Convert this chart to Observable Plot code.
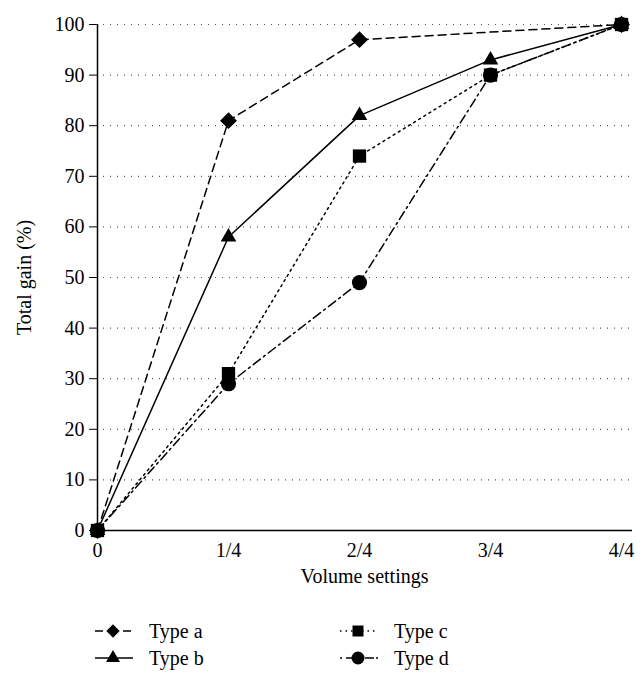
<!DOCTYPE html>
<html>
<head>
<meta charset="utf-8">
<script src="https://cdn.jsdelivr.net/npm/d3@7"></script>
<script src="https://cdn.jsdelivr.net/npm/@observablehq/plot@0.6"></script>
<style>
  body { margin: 0; background: #fff; }
  #wrap { position: relative; width: 644px; height: 683px; font-family: "Liberation Serif", "DejaVu Serif", serif; }
  #wrap svg text { font-size: 20px; fill: #000; }
  #wrap svg.legend text { font-size: 20px; }
</style>
</head>
<body>
<div id="wrap"></div>
<script>
const xLabels = ["0", "1/4", "2/4", "3/4", "4/4"];
const seriesNames = ["Type a", "Type b", "Type c", "Type d"];
const typeA = [0, 81, 97, null, 100];
const typeB = [0, 58, 82, 93, 100];
const typeC = [0, 31, 74, 90, 100];
const typeD = [0, 29, 49, 90, 100];
const yTicks = [0, 10, 20, 30, 40, 50, 60, 70, 80, 90, 100];

const seriesValues = [typeA, typeB, typeC, typeD];
const symbols = ["diamond2", "triangle", "square", "circle"];
const dashes = ["8,5", null, "2,4", "9,4,2,4"];
const radii = [7.6, 5.8, 7.5, 7.6];

const data = [];
seriesNames.forEach((s, i) => {
  seriesValues[i].forEach((v, j) => {
    if (v != null) data.push({series: s, x: xLabels[j], y: v, i});
  });
});

const marks = [
  Plot.gridY(yTicks.filter(d => d > 0), {stroke: "#555", strokeOpacity: 1, strokeDasharray: "1,6", strokeWidth: 1.2}),
  Plot.axisY(yTicks, {tickSize: 7, tickPadding: 5, label: "Total gain (%)", labelAnchor: "center", labelOffset: 80, labelArrow: "none"}),
  Plot.axisX(xLabels, {tickSize: 0, tickPadding: 12, label: "Volume settings", labelAnchor: "center", labelOffset: 52, labelArrow: "none"}),
  Plot.ruleY([0], {stroke: "#000", strokeWidth: 1.5}),
  Plot.ruleX([xLabels[0]], {y1: 0, y2: 100, stroke: "#000", strokeWidth: 1.5})
];
seriesNames.forEach((s, i) => {
  const d = data.filter(r => r.series === s);
  marks.push(Plot.line(d, {x: "x", y: "y", stroke: "#000", strokeWidth: 1.5, strokeDasharray: dashes[i]}));
});
seriesNames.forEach((s, i) => {
  const d = data.filter(r => r.series === s);
  marks.push(Plot.dot(d, {x: "x", y: "y", symbol: () => symbols[i], r: radii[i], fill: "#000", stroke: "none"}));
});

const chart = Plot.plot({
  width: 644,
  height: 600,
  marginLeft: 96,
  marginRight: 12,
  marginTop: 24,
  marginBottom: 70,
  style: {fontFamily: "Liberation Serif, DejaVu Serif, serif", fontSize: "20px", color: "#000", background: "#fff", overflow: "visible"},
  x: {type: "point", domain: xLabels, range: [96, 621], padding: 0},
  y: {domain: [0, 100]},
  symbol: {type: "identity"},
  marks
});
document.getElementById("wrap").appendChild(chart);

// Legend
const legendPos = [
  {x: 95, y: 631}, {x: 95, y: 658}, {x: 340, y: 631}, {x: 340, y: 658}
];
const legendDash = ["8,6", null, "1.5,4", "2,4,9,10,9"];
const legendR = [6, 5.2, 6.2, 6.5];
const svg = d3.select("#wrap").append("svg")
  .attr("class", "legend")
  .attr("width", 644).attr("height", 83)
  .style("position", "absolute").style("left", "0px").style("top", "600px")
  .style("overflow", "visible");
const symMap = {diamond2: d3.symbolDiamond2, triangle: d3.symbolTriangle, square: d3.symbolSquare, circle: d3.symbolCircle};
seriesNames.forEach((s, i) => {
  const p = legendPos[i];
  const yy = p.y - 600;
  svg.append("line").attr("x1", p.x).attr("x2", p.x + 38).attr("y1", yy).attr("y2", yy)
    .attr("stroke", "#000").attr("stroke-width", 1.5)
    .attr("stroke-dasharray", legendDash[i]);
  svg.append("path").attr("transform", `translate(${p.x + 18},${yy})`)
    .attr("d", d3.symbol(symMap[symbols[i]], Math.PI * legendR[i] * legendR[i])())
    .attr("fill", "#000");
  svg.append("text").attr("x", p.x + 54).attr("y", yy).attr("dy", "0.33em")
    .attr("font-family", "Liberation Serif, DejaVu Serif, serif")
    .text(s);
});
</script>
</body>
</html>
